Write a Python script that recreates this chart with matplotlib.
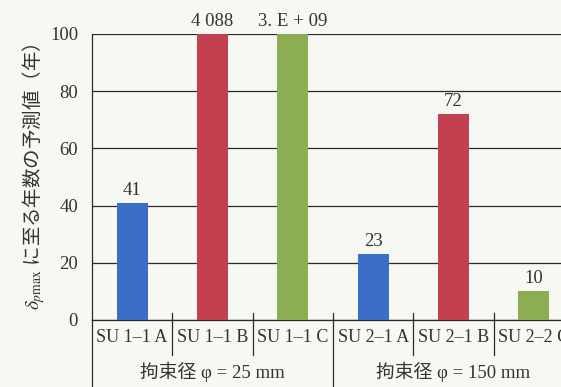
import matplotlib
matplotlib.use('Agg')
import matplotlib.pyplot as plt
import matplotlib.transforms as mtransforms

# データ
categories = ['SU 1–1 A', 'SU 1–1 B', 'SU 1–1 C', 'SU 2–1 A', 'SU 2–1 B', 'SU 2–2 C']
values = [41, 4088, 3e9, 23, 72, 10]
value_labels = ['41', '4 088', '3. E + 09', '23', '72', '10']
colors = ['#3b6fc6', '#c2404f', '#8cad52', '#3b6fc6', '#c2404f', '#8cad52']
groups = ['拘束径 φ = 25 mm', '拘束径 φ = 150 mm']
group_centers = [1, 4]
yticks = [0, 20, 40, 60, 80, 100]

plt.rcParams['mathtext.fontset'] = 'stix'
serif_jp = ['Liberation Serif', 'Noto Sans CJK JP']
bg = '#f7f7f4'
ink = '#333333'

fig = plt.figure(figsize=(5.61, 3.87), dpi=100, facecolor=bg)
ax = fig.add_axes([92 / 561, 67 / 387, 482 / 561, 286 / 387], facecolor=bg)

x = list(range(len(categories)))
shown = [min(v, 100) for v in values]  # 100年を超える棒は上端で切る
ax.bar(x, shown, width=0.39, color=colors, zorder=3)

ax.set_xlim(-0.5, len(categories) - 0.5)
ax.set_ylim(0, 100)
ax.set_yticks(yticks)
ax.yaxis.grid(True, color='#2a2a2a', linewidth=0.9, zorder=0)
ax.set_axisbelow(True)
ax.tick_params(axis='y', length=0, pad=10, labelsize=13.5, labelcolor=ink)
for lab in ax.get_yticklabels():
    lab.set_fontfamily('Liberation Serif')
ax.set_xticks([])

for s in ['top', 'right']:
    ax.spines[s].set_visible(False)
for s in ['left', 'bottom']:
    ax.spines[s].set_color('#2a2a2a')
    ax.spines[s].set_linewidth(0.9)

# 値ラベル
for xi, h, t in zip(x, shown, value_labels):
    ax.annotate(t, (xi, h), xytext=(0, 3), textcoords='offset points',
                ha='center', va='bottom', fontsize=13.5, color=ink,
                family='Liberation Serif')

# 下の表部分
trans = mtransforms.blended_transform_factory(ax.transData, ax.transAxes)
for xi, c in zip(x, categories):
    ax.text(xi, -0.06, c, transform=trans, ha='center', va='center',
            fontsize=13, color=ink, family='Liberation Serif')
for i in range(1, len(categories)):
    low = -0.26 if i == 3 else -0.122
    ax.plot([i - 0.5, i - 0.5], [0.024, low], transform=trans,
            color='#2a2a2a', lw=0.9, clip_on=False)
ax.plot([-0.5, -0.5], [0, -0.26], transform=trans, color='#2a2a2a',
        lw=0.9, clip_on=False)
for gc, g in zip(group_centers, groups):
    ax.text(gc, -0.18, g, transform=trans, ha='center', va='center',
            fontsize=13.5, color=ink, family=serif_jp)

ax.set_ylabel(r'$\delta_{p\mathrm{max}}$ に至る年数の予測値（年）',
              fontsize=14, color=ink, family='Noto Sans CJK JP',
              labelpad=2)

fig.savefig('out.png', dpi=100, facecolor=bg)
